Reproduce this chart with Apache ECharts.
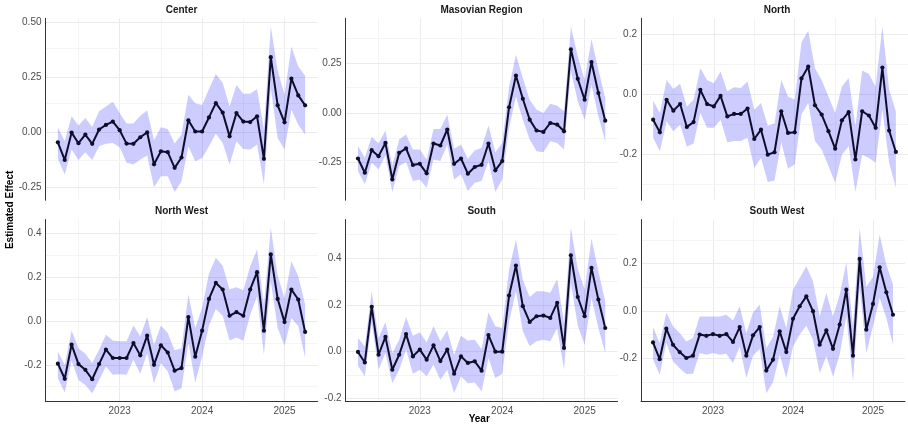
<!DOCTYPE html>
<html>
<head>
<meta charset="utf-8">
<script src="https://cdn.jsdelivr.net/npm/echarts@6.0.0/dist/echarts.min.js"></script>
<style>
  html, body { margin: 0; padding: 0; background: #fff; }
  #chart { width: 908px; height: 424px; }
</style>
</head>
<body>
<div id="chart"></div>
<script>
// monthly estimates, Apr 2022 .. Apr 2025
const months = ['2022-04','2022-05','2022-06','2022-07','2022-08','2022-09','2022-10','2022-11','2022-12',
  '2023-01','2023-02','2023-03','2023-04','2023-05','2023-06','2023-07','2023-08','2023-09','2023-10','2023-11','2023-12',
  '2024-01','2024-02','2024-03','2024-04','2024-05','2024-06','2024-07','2024-08','2024-09','2024-10','2024-11','2024-12',
  '2025-01','2025-02','2025-03','2025-04'];
const xTicks = [2023, 2024, 2025];

const centerEst  = [-0.047,-0.127,-0.003,-0.051,-0.012,-0.054,0.011,0.032,0.047,0.008,-0.053,-0.054,-0.024,-0.002,-0.147,-0.088,-0.092,-0.163,-0.116,0.053,0.002,0.002,0.066,0.131,0.088,-0.020,0.086,0.047,0.045,0.071,-0.122,0.340,0.121,0.044,0.242,0.166,0.121];
const centerLow  = [-0.122,-0.193,-0.080,-0.128,-0.092,-0.128,-0.065,-0.054,-0.050,-0.069,-0.140,-0.148,-0.125,-0.107,-0.251,-0.201,-0.201,-0.273,-0.224,-0.065,-0.133,-0.118,-0.065,-0.008,-0.050,-0.148,-0.042,-0.077,-0.080,-0.057,-0.239,0.199,-0.027,-0.080,0.101,0.033,-0.012];
const centerHigh = [0.021,-0.042,0.071,0.029,0.063,0.023,0.094,0.116,0.137,0.086,0.038,0.038,0.074,0.098,-0.038,0.021,0.014,-0.053,-0.012,0.169,0.131,0.122,0.195,0.264,0.222,0.116,0.214,0.174,0.174,0.195,0.011,0.479,0.279,0.169,0.388,0.298,0.255];

const masovianEst  = [-0.231,-0.303,-0.189,-0.219,-0.152,-0.337,-0.202,-0.180,-0.264,-0.258,-0.306,-0.155,-0.165,-0.084,-0.258,-0.231,-0.308,-0.274,-0.263,-0.155,-0.291,-0.244,0.029,0.190,0.072,-0.034,-0.089,-0.096,-0.051,-0.059,-0.093,0.323,0.173,0.067,0.258,0.101,-0.039];
const masovianLow  = [-0.295,-0.362,-0.253,-0.286,-0.215,-0.401,-0.269,-0.249,-0.345,-0.337,-0.379,-0.236,-0.244,-0.160,-0.337,-0.311,-0.396,-0.354,-0.345,-0.244,-0.399,-0.337,-0.076,0.084,-0.034,-0.135,-0.194,-0.199,-0.143,-0.152,-0.185,0.210,0.059,-0.034,0.143,-0.017,-0.143];
const masovianHigh = [-0.168,-0.227,-0.121,-0.155,-0.089,-0.266,-0.135,-0.109,-0.185,-0.185,-0.236,-0.081,-0.081,-0.008,-0.182,-0.160,-0.232,-0.190,-0.177,-0.064,-0.199,-0.152,0.131,0.295,0.177,0.067,0.017,0.000,0.047,0.037,0.008,0.438,0.286,0.168,0.374,0.219,0.076];

const northEst  = [-0.085,-0.127,-0.019,-0.055,-0.033,-0.109,-0.093,0.014,-0.033,-0.041,-0.006,-0.074,-0.066,-0.066,-0.048,-0.149,-0.118,-0.201,-0.193,-0.057,-0.129,-0.127,0.052,0.091,-0.037,-0.068,-0.123,-0.181,-0.087,-0.060,-0.217,-0.057,-0.071,-0.112,0.088,-0.121,-0.192];
const northLow  = [-0.145,-0.190,-0.090,-0.123,-0.101,-0.175,-0.164,-0.063,-0.112,-0.112,-0.085,-0.160,-0.156,-0.156,-0.145,-0.245,-0.212,-0.292,-0.287,-0.160,-0.248,-0.234,-0.068,-0.030,-0.156,-0.184,-0.239,-0.294,-0.201,-0.173,-0.325,-0.201,-0.212,-0.228,-0.052,-0.228,-0.311];
const northHigh = [-0.022,-0.063,0.047,0.017,0.034,-0.041,-0.019,0.086,0.047,0.036,0.075,0.009,0.023,0.020,0.042,-0.052,-0.030,-0.105,-0.098,0.047,-0.008,-0.019,0.171,0.210,0.086,0.047,-0.008,-0.063,0.025,0.053,-0.107,0.078,0.067,0.025,0.224,0.014,-0.057];

const northWestEst  = [-0.195,-0.264,-0.108,-0.197,-0.223,-0.266,-0.197,-0.131,-0.169,-0.169,-0.169,-0.101,-0.157,-0.067,-0.200,-0.111,-0.144,-0.227,-0.215,0.018,-0.163,-0.044,0.101,0.174,0.144,0.024,0.041,0.024,0.144,0.223,-0.044,0.304,0.101,-0.005,0.144,0.098,-0.050];
const northWestLow  = [-0.261,-0.327,-0.180,-0.269,-0.292,-0.330,-0.269,-0.208,-0.246,-0.243,-0.246,-0.177,-0.241,-0.147,-0.284,-0.192,-0.231,-0.322,-0.307,-0.101,-0.281,-0.162,-0.021,0.055,0.024,-0.089,-0.075,-0.090,0.029,0.113,-0.154,0.182,-0.032,-0.113,0.014,-0.024,-0.169];
const northWestHigh = [-0.139,-0.200,-0.043,-0.124,-0.150,-0.192,-0.131,-0.063,-0.089,-0.093,-0.093,-0.021,-0.070,0.018,-0.108,-0.021,-0.055,-0.134,-0.124,0.121,-0.032,0.060,0.217,0.289,0.253,0.144,0.154,0.140,0.250,0.327,0.075,0.426,0.208,0.105,0.273,0.205,0.075];

const southEst  = [-0.001,-0.046,0.191,-0.013,0.063,-0.077,-0.013,0.075,-0.020,0.009,-0.034,0.027,-0.040,0.009,-0.094,-0.020,-0.048,-0.041,-0.081,0.071,0.000,0.000,0.239,0.367,0.194,0.127,0.151,0.154,0.144,0.208,0.016,0.411,0.233,0.151,0.357,0.222,0.101];
const southLow  = [-0.060,-0.105,0.122,-0.077,-0.006,-0.134,-0.077,0.009,-0.094,-0.077,-0.105,-0.056,-0.120,-0.077,-0.177,-0.105,-0.134,-0.131,-0.169,-0.027,-0.112,-0.094,0.130,0.258,0.087,0.023,0.044,0.051,0.044,0.101,-0.077,0.293,0.111,0.030,0.229,0.101,-0.006];
const southHigh = [0.058,0.023,0.258,0.058,0.125,-0.006,0.051,0.148,0.068,0.083,0.040,0.108,0.044,0.091,-0.013,0.068,0.048,0.051,0.011,0.168,0.108,0.101,0.350,0.478,0.307,0.233,0.258,0.258,0.251,0.310,0.122,0.528,0.353,0.265,0.481,0.343,0.215];

const southWestEst  = [-0.133,-0.204,-0.075,-0.143,-0.174,-0.199,-0.189,-0.100,-0.105,-0.098,-0.105,-0.098,-0.131,-0.068,-0.189,-0.103,-0.068,-0.252,-0.206,-0.086,-0.174,-0.033,0.020,0.062,-0.001,-0.143,-0.082,-0.160,-0.058,0.090,-0.189,0.220,-0.079,0.030,0.185,0.079,-0.016];
const southWestLow  = [-0.204,-0.270,-0.136,-0.213,-0.242,-0.267,-0.266,-0.178,-0.185,-0.178,-0.185,-0.181,-0.220,-0.150,-0.284,-0.189,-0.161,-0.348,-0.302,-0.185,-0.284,-0.150,-0.100,-0.062,-0.122,-0.263,-0.192,-0.277,-0.185,-0.023,-0.298,0.098,-0.178,-0.065,0.055,-0.030,-0.143];
const southWestHigh = [-0.068,-0.136,-0.008,-0.065,-0.093,-0.129,-0.114,-0.023,-0.023,-0.023,-0.023,-0.016,-0.040,0.020,-0.093,-0.008,0.027,-0.157,-0.110,0.020,-0.072,0.090,0.140,0.189,0.126,-0.023,0.076,-0.023,0.069,0.206,-0.062,0.352,0.102,0.144,0.324,0.196,0.112];

const panelNames = ['Center', 'Masovian Region', 'North', 'North West', 'South', 'South West'];
const panelSteps = [0.25, 0.25, 0.2, 0.2, 0.2, 0.2];

const panels = [
  { est: centerEst, low: centerLow, high: centerHigh },
  { est: masovianEst, low: masovianLow, high: masovianHigh },
  { est: northEst, low: northLow, high: northHigh },
  { est: northWestEst, low: northWestLow, high: northWestHigh },
  { est: southEst, low: southLow, high: southHigh },
  { est: southWestEst, low: southWestLow, high: southWestHigh }
];

// layout
const colLeft = [45.5, 345.6, 641];
const rowTop = [18.3, 219.5];
const panelW = 272, panelH = 182;
const font = '"Liberation Sans", Arial, sans-serif';
const bandColor = 'rgba(0,0,255,0.2)';
const lineColor = '#0e0e2c';
const majorGrid = { color: '#ebebeb', width: 1, type: 'solid' };
const minorGrid = { color: '#f4f4f4', width: 1, type: 'solid' };

const xs = months.map(m => { const p = m.split('-').map(Number); return p[0] + (p[1] - 1) / 12; });
const xPad = 0.05 * (xs[xs.length - 1] - xs[0]);
const xMin = xs[0] - xPad, xMax = xs[xs.length - 1] + xPad;

const grids = [], xAxes = [], yAxes = [], series = [], graphics = [];

panels.forEach((p, i) => {
  const col = i % 3, row = Math.floor(i / 3);
  const step = panelSteps[i];
  const digits = step === 0.25 ? 2 : 1;
  const lo = Math.min(...p.low), hi = Math.max(...p.high);
  const pad = 0.05 * (hi - lo);
  const yMin = lo - pad, yMax = hi + pad;

  grids.push({ left: colLeft[col], top: rowTop[row], width: panelW, height: panelH });

  xAxes.push({
    type: 'value', gridIndex: i, min: xMin, max: xMax,
    minInterval: 1, maxInterval: 1,
    axisLine: { show: row === 1, onZero: false, lineStyle: { color: '#333', width: 1 } },
    axisTick: { show: false },
    splitLine: { show: false },
    axisLabel: {
      show: row === 1, color: '#4d4d4d', fontSize: 10, fontFamily: font, margin: 5,
      formatter: v => Number.isInteger(Math.round(v * 1e6) / 1e6) ? String(Math.round(v)) : ''
    }
  });

  yAxes.push({
    type: 'value', gridIndex: i, min: yMin, max: yMax,
    minInterval: step, maxInterval: step,
    axisLine: { show: true, onZero: false, lineStyle: { color: '#333', width: 1 } },
    axisTick: { show: false },
    splitLine: { show: false },
    axisLabel: {
      color: '#4d4d4d', fontSize: 10, fontFamily: font, margin: 4,
      formatter: v => {
        const k = v / step;
        if (Math.abs(k - Math.round(k)) > 1e-6) return '';
        return (Math.round(k) * step).toFixed(digits);
      }
    }
  });

  // grid lines through the axis scales
  const gridLines = [];
  xTicks.forEach(t => gridLines.push({ xAxis: t, lineStyle: majorGrid }));
  xTicks.forEach(t => { if (t - 0.5 > xMin) gridLines.push({ xAxis: t - 0.5, lineStyle: minorGrid }); });
  for (let k = Math.ceil(yMin / step * 2); k <= Math.floor(yMax / step * 2); k++) {
    gridLines.push({ yAxis: k * step / 2, lineStyle: k % 2 === 0 ? majorGrid : minorGrid });
  }

  // confidence band as one polygon: upper edge forward, lower edge back
  series.push({
    type: 'custom', xAxisIndex: i, yAxisIndex: i, z: 2, silent: true,
    data: xs.map((x, j) => [x, p.low[j], p.high[j]]),
    encode: { x: 0, y: [1, 2] },
    renderItem: (params, api) => {
      if (params.dataIndex !== 0) return;
      const pts = [];
      xs.forEach((x, j) => pts.push(api.coord([x, p.high[j]])));
      for (let j = xs.length - 1; j >= 0; j--) pts.push(api.coord([xs[j], p.low[j]]));
      return { type: 'polygon', shape: { points: pts }, style: { fill: bandColor } };
    },
    markLine: {
      silent: true, z: 0, symbol: ['none', 'none'], label: { show: false },
      animation: false, data: gridLines
    }
  });
  series.push({
    type: 'line', xAxisIndex: i, yAxisIndex: i, z: 3,
    data: xs.map((x, j) => [x, p.est[j]]),
    symbol: 'circle', symbolSize: 4.2, showAllSymbol: true,
    lineStyle: { color: lineColor, width: 2 },
    itemStyle: { color: lineColor }
  });

  graphics.push({
    type: 'text', x: colLeft[col] + panelW / 2, y: rowTop[row] - 8,
    style: { text: panelNames[i], font: 'bold 10px ' + font, fill: '#1a1a1a',
             align: 'center', verticalAlign: 'middle', textAlign: 'center', textVerticalAlign: 'middle' }
  });
});

graphics.push({
  type: 'text', x: (colLeft[0] + colLeft[2] + panelW) / 2, y: 419,
  style: { text: 'Year', font: 'bold 10px ' + font, fill: '#000',
           align: 'center', verticalAlign: 'middle', textAlign: 'center', textVerticalAlign: 'middle' }
});
graphics.push({
  type: 'text', x: 10, y: (rowTop[0] + rowTop[1] + panelH) / 2, rotation: Math.PI / 2,
  style: { text: 'Estimated Effect', font: 'bold 10px ' + font, fill: '#000',
           align: 'center', verticalAlign: 'middle', textAlign: 'center', textVerticalAlign: 'middle' }
});

const chart = echarts.init(document.getElementById('chart'));
chart.setOption({
  animation: false,
  backgroundColor: '#fff',
  grid: grids,
  xAxis: xAxes,
  yAxis: yAxes,
  series: series,
  graphic: graphics
});
</script>
</body>
</html>
